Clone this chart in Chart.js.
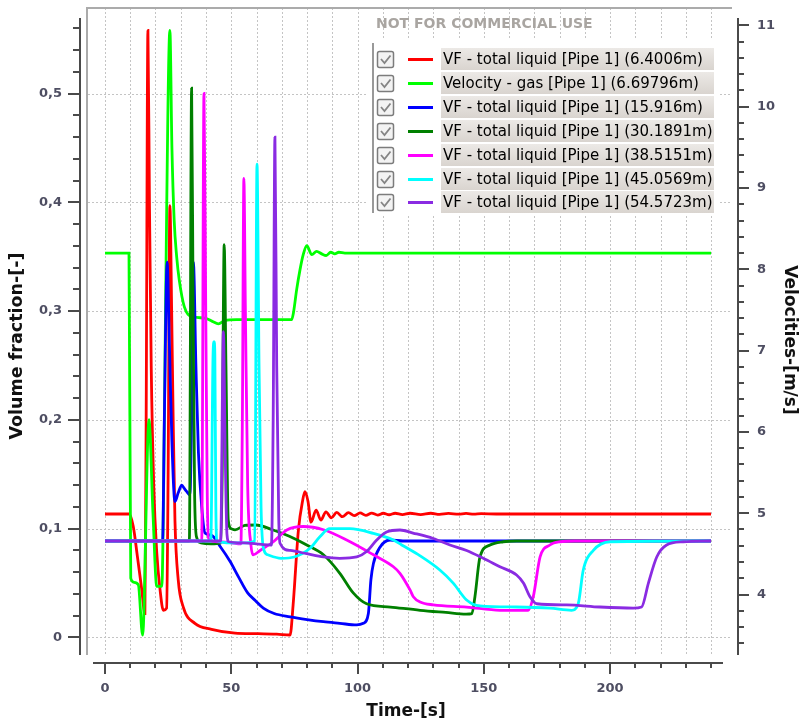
<!DOCTYPE html>
<html>
<head>
<meta charset="utf-8">
<title>Volume fraction / gas velocity</title>
<script src="https://cdn.jsdelivr.net/npm/chart.js@4.4.1/dist/chart.umd.min.js"></script>
<style>
  html, body { margin: 0; padding: 0; background: #fff; }
  #box { width: 800px; height: 727px; position: relative; }
</style>
</head>
<body>
<div id="box"><canvas id="grafico1"></canvas></div>
<script>
// series: time [s] and value, one pair of arrays per trend
const redT = [0, 9.5, 11.2, 12.8, 14.5, 15.8, 16.3, 17.0, 17.6, 18.3, 19.3, 20.5, 21.8, 23.1, 24.4, 25.0, 25.7, 26.4, 27.0, 27.7, 29.0, 31.0, 35.6, 42.2, 51.5, 60, 68, 73.3, 74.5, 76.6, 78.2, 79.2, 80.4, 81.6, 83.6, 85.5, 87.5, 89.6, 91.8, 94, 96.4, 98.7, 101, 103.3, 105.6, 108, 110.2, 112.5, 114.9, 117.8, 120.8, 125, 129, 132.5, 136, 140, 143, 146, 149, 155, 240];
const redVF = [0.1135, 0.1135, 0.102, 0.075, 0.045, 0.022, 0.2, 0.558, 0.40, 0.25, 0.14, 0.078, 0.044, 0.025, 0.027, 0.15, 0.397, 0.30, 0.20, 0.108, 0.053, 0.028, 0.013, 0.0075, 0.004, 0.0035, 0.003, 0.0023, 0.03, 0.099, 0.125, 0.134, 0.125, 0.106, 0.117, 0.108, 0.1155, 0.110, 0.115, 0.111, 0.1148, 0.112, 0.1145, 0.1122, 0.1143, 0.1125, 0.1142, 0.1128, 0.1142, 0.113, 0.1142, 0.113, 0.1142, 0.1132, 0.114, 0.1133, 0.114, 0.1134, 0.1138, 0.1135, 0.1135];

const gasT = [0, 9.5, 10.2, 11.5, 13.2, 14.9, 17.4, 19.0, 20.5, 22.5, 23.3, 24.0, 25.7, 26.5, 27.4, 28.4, 29.4, 31.4, 34.3, 39.6, 42.5, 44.9, 47.5, 52, 60, 68, 73.9, 74.6, 75.9, 77.2, 78.5, 79.9, 81.9, 83.8, 85.8, 87.6, 89.4, 91, 92.6, 95, 100, 240];
const gasVel = [8.2, 8.2, 4.2, 4.15, 4.12, 3.5, 6.15, 5.0, 4.1, 4.1, 5.5, 7.6, 10.94, 9.5, 8.6, 8.15, 7.87, 7.54, 7.42, 7.40, 7.36, 7.33, 7.37, 7.38, 7.38, 7.38, 7.38, 7.46, 7.75, 7.99, 8.18, 8.29, 8.18, 8.22, 8.19, 8.17, 8.21, 8.19, 8.21, 8.2, 8.2, 8.2];

const blueT = [0, 22.8, 23.5, 24.6, 25.5, 26.5, 27.7, 29.0, 30.4, 31.4, 32.4, 33.6, 34.3, 35.0, 36.0, 37.0, 38.3, 39.6, 42.0, 46.1, 49.5, 52.8, 56.5, 59.5, 62.7, 67, 73.3, 80, 86.5, 93, 99.7, 102.3, 104.3, 105.3, 106.3, 108.9, 112.9, 118, 240];
const blueVF = [0.0887, 0.0887, 0.2, 0.345, 0.27, 0.18, 0.125, 0.133, 0.140, 0.137, 0.134, 0.131, 0.2, 0.345, 0.25, 0.17, 0.12, 0.096, 0.094, 0.082, 0.07, 0.056, 0.041, 0.034, 0.027, 0.022, 0.019, 0.0165, 0.0145, 0.013, 0.0115, 0.013, 0.022, 0.053, 0.068, 0.083, 0.0896, 0.0887, 0.0887];

const dkGreenT = [0, 33.4, 34.3, 34.9, 35.5, 36.3, 38, 42, 45.9, 46.4, 47.2, 47.9, 48.8, 50, 51.5, 55.4, 59.7, 66.3, 73, 79.9, 86.5, 93, 98.3, 103.6, 113, 124.8, 135, 143, 145.3, 146.5, 148.5, 152.5, 157.7, 163, 240];
const dkGreenVF = [0.0887, 0.0887, 0.505, 0.3, 0.13, 0.092, 0.087, 0.086, 0.087, 0.15, 0.361, 0.25, 0.108, 0.10, 0.099, 0.103, 0.1034, 0.099, 0.093, 0.085, 0.076, 0.059, 0.041, 0.031, 0.028, 0.025, 0.023, 0.0215, 0.022, 0.0375, 0.074, 0.085, 0.088, 0.0887, 0.0887];

const magentaT = [0, 38.3, 39.2, 39.9, 40.5, 41.2, 45, 50, 53.8, 54.4, 55.0, 55.6, 56.5, 57.8, 58.7, 61.4, 66.7, 72, 78.5, 86.5, 95.7, 106.3, 114.2, 116.8, 120.8, 122.1, 124.8, 130, 143.2, 156.4, 167.6, 169.6, 172.3, 176.2, 180.2, 186, 240];
const magentaVF = [0.0887, 0.0887, 0.5, 0.3, 0.13, 0.09, 0.088, 0.087, 0.086, 0.2, 0.422, 0.3, 0.14, 0.085, 0.076, 0.080, 0.088, 0.0988, 0.102, 0.099, 0.0896, 0.076, 0.065, 0.059, 0.0437, 0.0375, 0.0326, 0.030, 0.028, 0.025, 0.025, 0.0375, 0.074, 0.085, 0.088, 0.0887, 0.0887];

const cyanT = [0, 41.9, 42.8, 43.2, 43.5, 43.9, 44.3, 50, 56, 59.3, 60.2, 61.0, 61.8, 63, 64.4, 69.7, 74.9, 81.2, 85.1, 89, 97, 106.3, 114.2, 117.5, 124.8, 132.6, 137.9, 143.2, 148.5, 163, 176.2, 184.8, 187.4, 189.4, 193.4, 200, 240];
const cyanVF = [0.0887, 0.0887, 0.26, 0.272, 0.26, 0.12, 0.089, 0.087, 0.087, 0.0887, 0.435, 0.25, 0.12, 0.08, 0.076, 0.0728, 0.074, 0.082, 0.0926, 0.100, 0.100, 0.0957, 0.0896, 0.085, 0.075, 0.062, 0.050, 0.0345, 0.029, 0.028, 0.027, 0.025, 0.031, 0.062, 0.080, 0.088, 0.0887];

const purpleT = [0, 45.8, 46.9, 47.6, 48.3, 49, 55, 62, 65.9, 66.6, 67.3, 68.0, 68.8, 69.3, 73.3, 79.9, 86.5, 93, 99.7, 103.6, 107.6, 111.5, 116.8, 122, 130, 136.6, 143.2, 149.8, 156.4, 163, 165.7, 168.3, 171, 182.8, 196, 209.2, 212.5, 215.2, 218.5, 222.4, 229, 240];
const purpleVF = [0.0887, 0.0887, 0.281, 0.17, 0.095, 0.088, 0.087, 0.0855, 0.085, 0.2, 0.46, 0.25, 0.11, 0.0866, 0.080, 0.077, 0.074, 0.0728, 0.074, 0.079, 0.0896, 0.097, 0.0988, 0.096, 0.091, 0.085, 0.080, 0.0728, 0.065, 0.0574, 0.050, 0.0375, 0.031, 0.030, 0.028, 0.027, 0.028, 0.050, 0.074, 0.085, 0.088, 0.0887];

const seriesLabels = [
  'VF - total liquid [Pipe 1] (6.4006m)',
  'Velocity - gas [Pipe 1] (6.69796m)',
  'VF - total liquid [Pipe 1] (15.916m)',
  'VF - total liquid [Pipe 1] (30.1891m)',
  'VF - total liquid [Pipe 1] (38.5151m)',
  'VF - total liquid [Pipe 1] (45.0569m)',
  'VF - total liquid [Pipe 1] (54.5723m)'
];
const seriesColors = ['#ff0000', '#00ff00', '#0000ff', '#008000', '#ff00ff', '#00ffff', '#8a2be2'];

// tick values and labels
const timeTicks = [0, 50, 100, 150, 200];
const timeTickLabels = ['0', '50', '100', '150', '200'];
const vfTicks = [0, 0.1, 0.2, 0.3, 0.4, 0.5];
const vfTickLabels = ['0', '0,1', '0,2', '0,3', '0,4', '0,5'];
const velTicks = [4, 5, 6, 7, 8, 9, 10, 11];
const velTickLabels = ['4', '5', '6', '7', '8', '9', '10', '11'];

const pts = (ts, vs) => ts.map((t, i) => ({ x: t, y: vs[i] }));
const seriesData = [
  pts(redT, redVF), pts(gasT, gasVel), pts(blueT, blueVF), pts(dkGreenT, dkGreenVF),
  pts(magentaT, magentaVF), pts(cyanT, cyanVF), pts(purpleT, purpleVF)
];

const tickFont = { family: 'DejaVu Sans', size: 13, weight: 'bold' };
const tickColor = '#4e4e62';

// fixed box sizes so the plot area lands where the axes are drawn
function fixSize(prop, size) {
  return s => {
    s[prop] = size;
    s.paddingTop = 0; s.paddingBottom = 0; s.paddingLeft = 0; s.paddingRight = 0;
  };
}

// grid, frame, detached axes, legend panel and titles
const decorPlugin = {
  id: 'decor',
  beforeDatasetsDraw(chart) {
    const { ctx, chartArea: a, scales } = chart;
    ctx.save();
    ctx.strokeStyle = '#c4c4c4';
    ctx.lineWidth = 1;
    ctx.setLineDash([2, 2]);
    ctx.beginPath();
    vfTicks.forEach(v => {
      const y = Math.round(scales.y.getPixelForValue(v)) + 0.5;
      ctx.moveTo(a.left, y); ctx.lineTo(a.right, y);
    });
    for (let t = 0; t <= 240; t += 10) {
      const x = Math.round(scales.x.getPixelForValue(t)) + 0.5;
      ctx.moveTo(x, a.top); ctx.lineTo(x, a.bottom);
    }
    ctx.stroke();
    ctx.setLineDash([]);
    ctx.strokeStyle = '#ababab';
    ctx.lineWidth = 2;
    ctx.beginPath();
    ctx.moveTo(a.left - 1, a.bottom);
    ctx.lineTo(a.left - 1, a.top);
    ctx.lineTo(a.right, a.top);
    ctx.stroke();
    ctx.restore();
  },
  afterDraw(chart) {
    const { ctx, scales } = chart;
    ctx.save();
    ctx.strokeStyle = '#4a4a4a';
    ctx.lineWidth = 2;
    ctx.beginPath();
    // left axis
    const lx = 80;
    ctx.moveTo(lx, 18); ctx.lineTo(lx, 655);
    for (let k = 0; k <= 28; k++) {
      const y = Math.round(scales.y.getPixelForValue(k * 0.02));
      ctx.moveTo(lx, y); ctx.lineTo(lx - (k % 5 === 0 ? 12 : 7), y);
    }
    // right axis
    const rx = 738;
    ctx.moveTo(rx, 18); ctx.lineTo(rx, 655);
    for (let k = 17; k <= 55; k++) {
      const y = Math.round(scales.y2.getPixelForValue(k * 0.2));
      ctx.moveTo(rx, y); ctx.lineTo(rx + (k % 5 === 0 ? 11 : 6), y);
    }
    // time axis
    const by = 663;
    ctx.moveTo(93, by); ctx.lineTo(723, by);
    for (let t = 0; t <= 240; t += 10) {
      const x = Math.round(scales.x.getPixelForValue(t));
      ctx.moveTo(x, by); ctx.lineTo(x, by + (t % 50 === 0 ? 11 : 5));
    }
    ctx.stroke();

    // axis titles
    ctx.fillStyle = '#111';
    ctx.font = 'bold 17px "DejaVu Sans"';
    ctx.textAlign = 'center';
    ctx.textBaseline = 'middle';
    ctx.fillText('Time-[s]', 406, 712);
    ctx.save();
    ctx.translate(789, 340);
    ctx.rotate(Math.PI / 2);
    ctx.fillText('Velocities-[m/s]', 0, 0);
    ctx.restore();
    ctx.save();
    ctx.font = 'bold 17.5px "DejaVu Sans"';
    ctx.translate(17, 346);
    ctx.rotate(-Math.PI / 2);
    ctx.fillText('Volume fraction-[-]', 0, 0);
    ctx.restore();

    // legend panel
    ctx.fillStyle = '#fff';
    ctx.fillRect(366, 38, 354, 178);
    ctx.textAlign = 'left';
    ctx.font = 'bold 14px "DejaVu Sans"';
    ctx.fillStyle = '#a9a5a1';
    ctx.fillText('NOT FOR COMMERCIAL USE', 376, 24);
    ctx.strokeStyle = '#999';
    ctx.lineWidth = 2;
    ctx.beginPath();
    ctx.moveTo(373, 43); ctx.lineTo(373, 213);
    ctx.stroke();
    ctx.font = '15px "DejaVu Sans"';
    chart.data.datasets.forEach((ds, i) => {
      const cy = Math.round(59.3 + i * 23.85);
      // checkbox
      ctx.fillStyle = '#f3f3f3';
      ctx.strokeStyle = '#7c7c7c';
      ctx.lineWidth = 1.5;
      ctx.beginPath();
      ctx.roundRect(377.5, cy - 7.5, 16, 16, 2);
      ctx.fill(); ctx.stroke();
      ctx.strokeStyle = '#858585';
      ctx.lineWidth = 1.8;
      ctx.beginPath();
      ctx.moveTo(381, cy); ctx.lineTo(384.5, cy + 4); ctx.lineTo(390.5, cy - 3.5);
      ctx.stroke();
      // colour sample
      ctx.strokeStyle = ds.borderColor;
      ctx.lineWidth = 3;
      ctx.beginPath();
      ctx.moveTo(408, cy + 0.5); ctx.lineTo(433, cy + 0.5);
      ctx.stroke();
      // label plate
      const g = ctx.createLinearGradient(0, cy - 11, 0, cy + 11);
      g.addColorStop(0, '#ece9e6');
      g.addColorStop(1, '#d9d4cf');
      ctx.fillStyle = g;
      ctx.fillRect(441, cy - 11, 273, 22);
      ctx.fillStyle = '#000';
      ctx.fillText(ds.label, 443, cy + 1);
    });
    ctx.restore();
  }
};

new Chart(document.getElementById('grafico1'), {
  type: 'line',
  data: {
    datasets: seriesData.map((d, i) => ({
      label: seriesLabels[i],
      data: d,
      yAxisID: i === 1 ? 'y2' : 'y',
      borderColor: seriesColors[i],
      backgroundColor: seriesColors[i],
      borderWidth: 2.8,
      pointRadius: 0,
      cubicInterpolationMode: 'monotone',
      order: seriesData.length - i
    }))
  },
  options: {
    responsive: true,
    maintainAspectRatio: false,
    animation: false,
    events: [],
    layout: { padding: { top: 8, left: 0, right: 0, bottom: 0 } },
    plugins: { legend: { display: false }, title: { display: false }, tooltip: { enabled: false } },
    scales: {
      x: {
        type: 'linear',
        position: 'bottom',
        min: -6.73,
        max: 248.3,
        grid: { display: false, drawTicks: true, tickLength: 26 },
        border: { display: false },
        afterBuildTicks: s => { s.ticks = timeTicks.map(v => ({ value: v })); },
        afterFit: fixSize('height', 72),
        ticks: {
          autoSkip: false,
          maxRotation: 0,
          padding: 0,
          font: tickFont,
          color: tickColor,
          callback: (v, i) => timeTickLabels[i]
        }
      },
      y: {
        type: 'linear',
        position: 'left',
        min: -0.0161,
        max: 0.5786,
        grid: { display: false, drawTicks: true, tickLength: 26 },
        border: { display: false },
        afterBuildTicks: s => { s.ticks = vfTicks.map(v => ({ value: v })); },
        afterFit: fixSize('width', 88),
        ticks: {
          autoSkip: false,
          padding: 0,
          font: tickFont,
          color: tickColor,
          callback: (v, i) => vfTickLabels[i]
        }
      },
      y2: {
        type: 'linear',
        position: 'right',
        min: 3.256,
        max: 11.214,
        grid: { display: false, drawTicks: true, tickLength: 25 },
        border: { display: false },
        afterBuildTicks: s => { s.ticks = velTicks.map(v => ({ value: v })); },
        afterFit: fixSize('width', 68),
        ticks: {
          autoSkip: false,
          padding: 0,
          font: tickFont,
          color: tickColor,
          callback: (v, i) => velTickLabels[i]
        }
      }
    }
  },
  plugins: [decorPlugin]
});
</script>
</body>
</html>
